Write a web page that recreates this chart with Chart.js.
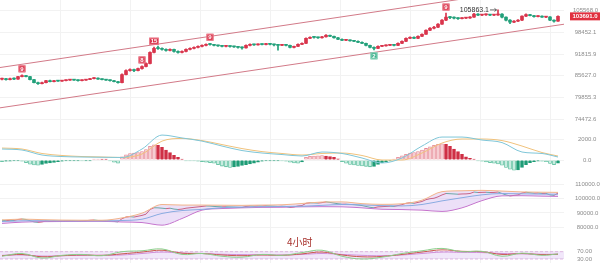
<!DOCTYPE html>
<html><head><meta charset="utf-8">
<script src="https://cdn.jsdelivr.net/npm/chart.js@4/dist/chart.umd.min.js"></script>
<style>
html,body{margin:0;padding:0;background:#fff;width:600px;height:263px;overflow:hidden;position:relative;}
canvas{position:absolute;left:0;}
#tf{position:absolute;left:287px;top:236px;font-size:10px;line-height:12px;font-family:"Noto Sans CJK SC","Noto Sans",sans-serif;color:#a8322d;}
</style></head><body>
<canvas id="c1" width="600" height="126" style="top:0px"></canvas>
<canvas id="c2" width="600" height="52" style="top:126px"></canvas>
<canvas id="c3" width="600" height="58" style="top:178px"></canvas>
<canvas id="c4" width="600" height="27" style="top:236px"></canvas>
<div id="tf">4小时</div>
<script>
// ---------- DATA ----------
// candles: [open, high, low, close]
const candles = [
[84700,85000,84500,84860],[84860,84950,84450,84590],[84590,85000,84500,84860],[84860,85050,84600,84730],
[84730,85500,84650,85420],[85420,85900,85300,85690],[85690,85800,85300,85420],[85420,85500,84500,84590],
[84590,84700,83700,83770],[83770,83900,83300,83500],[83500,83900,83400,83770],[83770,84400,83700,84310],
[84310,84450,83950,84040],[84040,84400,83950,84310],[84310,84400,84100,84180],[84180,84400,84100,84310],
[84310,84550,84250,84450],[84450,84700,84400,84590],[84590,84650,84350,84450],[84450,84500,84200,84310],
[84310,84550,84250,84450],[84450,84700,84400,84600],[84600,84950,84550,84860],[84860,85150,84800,85000],
[85000,85050,84650,84730],[84730,84800,84500,84590],[84590,84650,84350,84450],[84450,84500,84200,84310],
[84310,84400,83950,84040],[84040,84150,83600,83770],[83770,86200,83700,85970],[85970,87300,85900,87090],
[87090,87600,86900,87380],[87380,87500,86800,87090],[87090,87800,87000,87660],[87660,88400,87500,88230],
[88230,89300,88100,89090],[89090,92500,89000,92330],[92330,93900,92200,93540],[93540,94200,93200,93480],
[93480,93700,93000,93240],[93240,93400,92700,92930],[92930,93400,92800,93240],[93240,93300,92400,92630],
[92630,92800,92100,92330],[92330,92800,92200,92630],[92630,93400,92500,93240],[93240,93700,93100,93540],
[93540,94000,93400,93840],[93840,94300,93700,94150],[94150,94600,94000,94450],[94450,94900,94300,94760],
[94760,95100,94500,94700],[94700,94800,94300,94450],[94450,94550,94150,94300],[94300,94400,94000,94150],
[94150,94350,93950,94200],[94200,94300,93900,94100],[94100,94200,93800,93990],[93990,94100,93600,93840],
[93840,94000,93300,93690],[93690,94600,93600,94450],[94450,94900,94300,94760],[94760,94850,94400,94600],
[94600,94900,94500,94760],[94760,94950,94550,94700],[94700,95100,94600,94910],[94910,95000,94600,94760],
[94760,94850,94300,94600],[94600,94700,93000,94450],[94450,94750,94350,94600],[94600,94700,94300,94450],
[94450,94500,93700,93840],[93840,94250,93700,94150],[94150,94900,94050,94760],[94760,95200,94650,95070],
[95070,96800,94950,96620],[96620,97100,96500,96940],[96940,97150,96700,96900],[96900,97000,96600,96780],
[96780,97250,96700,97090],[97090,97800,97000,97570],[97570,97650,97100,97250],[97250,97350,96650,96780],
[96780,96900,96200,96310],[96310,96450,95900,96000],[96000,96200,95850,96050],[96050,96150,95700,95840],
[95840,95950,95550,95690],[95690,95800,95250,95380],[95380,95500,94950,95070],[95070,95150,94300,94450],
[94450,94550,93700,93840],[93840,94000,93100,93540],[93540,94300,93450,94150],[94150,94450,94050,94300],
[94300,94600,94200,94450],[94450,94750,94350,94600],[94600,94700,94300,94450],[94450,95200,94350,95070],
[95070,95800,94950,95690],[95690,96800,95600,96620],[96620,97100,96500,96940],[96940,97050,96500,96620],
[96620,97400,96500,97250],[97250,98000,97100,97880],[97880,99300,97800,99160],[99160,100000,99000,99810],
[99810,100400,99600,100130],[100130,101300,100000,101110],[101110,102600,101000,102430],[102430,104800,102300,103430],
[103430,103700,102900,103270],[103270,103500,102800,103100],[103100,103300,102700,102930],[102930,103300,102800,103100],
[103100,103400,102900,103150],[103150,103600,103000,103430],[103430,104700,103300,104440],[104440,104600,103900,104110],
[104110,104400,103900,104200],[104200,104500,104000,104280],[104280,104400,103900,104110],[104110,104350,103950,104150],
[104150,105863.1,104000,104440],[104440,104600,103200,103430],[103430,103550,102200,102430],[102430,102600,101300,101770],
[101770,102300,101600,102100],[102100,102600,101900,102430],[102430,103900,102300,103770],[103770,104500,103600,104280],
[104280,104400,103800,103940],[103940,104050,103450,103600],[103600,103950,103500,103770],[103770,103850,103300,103430],
[103430,103650,103250,103500],[103500,103600,102300,102430],[102430,102550,101800,102100],[102100,103900,102000,103691]
];
const priceTicks = [105568.0, 98452.1, 91815.9, 85627.0, 79855.3, 74472.6];
const trendUpper = [[-0.5, 87950], [140.5, 115120]];
const trendLower = [[-0.5, 77250], [140.5, 101100]];
// markers: [candle index, label, side]
const markers = [[5,'9','up'],[35,'8','up'],[38,'15','up'],[52,'9','up'],[111,'9','up'],[93,'2','down']];
const lastPrice = 103691.0;
const maxMark = [124, 105863.1];

const macdHist = [
-150,-120,-100,-80,-60,-100,-250,-400,-480,-500,
-420,-330,-280,-220,-160,-120,-90,-70,-60,-50,
-60,-40,-20,30,40,30,20,-40,-200,-300,
300,500,620,650,700,800,1000,1300,1450,1400,
1200,950,700,450,250,80,-40,-80,-90,-100,
-150,-200,-250,-300,-450,-580,-650,-700,-660,-600,
-520,-450,-380,-300,-200,-120,-80,-60,-50,-40,
-60,-100,-200,-280,-300,-180,250,350,380,400,
420,380,320,250,100,-150,-300,-420,-480,-520,
-560,-600,-650,-620,-420,-260,-150,-60,30,250,
400,550,650,700,800,950,1100,1250,1400,1500,
1550,1500,1300,1050,800,550,300,150,30,-60,
-120,-180,-250,-300,-380,-500,-700,-880,-980,-950,
-700,-450,-260,-160,-100,-110,-160,-320,-450,-300
];
const sampleIdx = [0,5,10,15,20,25,30,35,40,45,50,55,60,65,70,75,80,85,90,95,100,105,110,115,120,125,130,135,139];
const dif = [1045,950,475,330,285,260,240,1045,2375,2100,1800,1330,900,665,520,380,760,620,190,-285,190,1330,2185,2185,1900,1660,760,620,285];
const dea = [1140,1045,620,430,330,285,240,570,1800,2050,1850,1470,1090,800,620,475,620,665,430,0,0,665,1615,2000,2000,1850,1330,710,380];
const macdTicks = [2000, 0];

const maUpper = [85100,85650,85300,85000,84900,84900,86500,89800,95800,95400,95400,95300,95200,95400,95600,96500,97500,97600,96400,95900,96300,98800,104700,105300,105600,105100,104500,104300,104200];
const maMid   = [84000,84500,84600,84500,84500,84500,84700,85600,89600,91600,92400,93600,94000,94300,94400,94600,95200,95800,95500,95000,94800,95800,98300,100500,102500,103400,103200,103000,102900];
const maLower = [82700,83600,83900,84000,84100,84100,83700,83300,81500,86100,91900,93000,93500,93800,93900,94200,94300,94200,93500,92500,92300,91900,91000,93500,98500,101800,101900,101600,101400];
const maTicks = [110000, 100000, 90000, 80000];

const rsi6  = [45,60,35,50,55,48,70,75,85,55,60,45,40,55,50,65,78,45,30,40,60,75,88,70,72,45,62,50,58];
const rsi12 = [48,55,42,48,52,50,58,68,78,62,60,52,48,52,50,58,68,52,42,44,55,68,80,72,70,55,60,54,56];
const rsi24 = [50,52,46,48,50,50,52,60,68,62,60,56,54,53,52,55,60,55,50,48,52,60,68,66,65,60,58,56,56];
const rsiLevels = [70, 30];

const gridX = [14.5, 32, 49.5, 67, 84.5, 102, 119.5, 137];

// ---------- STYLE / HELPERS ----------
const RED = '#d9344c', GREEN = '#22a07a';
const FONT = 'Liberation Sans, Arial, sans-serif';
const N = candles.length;
function xScale(){
  return {type:'linear', min:-0.5, max:N+0.5, display:true, offset:false, bounds:'ticks',
    grid:{color:'#f2f2f2', drawTicks:false, lineWidth:1, offset:false}, border:{display:false},
    ticks:{display:false},
    afterBuildTicks(s){ s.ticks = gridX.map(v=>({value:v})); },
    afterFit(s){ s.height=0; s.paddingLeft=0; s.paddingRight=0; s.paddingTop=0; s.paddingBottom=0; }};
}
function yScale(type, min, max, tickVals, fmt, pad){
  return {type, min, max, position:'right',
    grid:{color:'#f2f2f2', drawTicks:false}, border:{display:false},
    ticks:{autoSkip:false, font:{size:6, family:FONT}, color:'#8c8c8c', crossAlign:'center', padding:pad,
      callback:(v)=>fmt(v)},
    afterBuildTicks(s){ s.ticks = tickVals.map(v=>({value:v})); },
    afterFit(s){ s.width=36; s.paddingTop=0; s.paddingBottom=0; s.paddingLeft=0; s.paddingRight=0; }};
}
const base = {responsive:false, animation:false, events:[], layout:{padding:0},
  plugins:{legend:{display:false}, tooltip:{enabled:false}}};
const pts = (arr)=>arr.map((v,k)=>({x:sampleIdx[k], y:v}));

// ---------- CHART 1: price ----------
const annot = {
  id:'annot',
  afterDatasetsDraw(chart){
    const {ctx, scales:{x,y}} = chart;
    ctx.save();
    markers.forEach(([i,t,side])=>{
      const c = candles[i];
      const px = x.getPixelForValue(i);
      const py = side==='up' ? y.getPixelForValue(c[1]) - 6 : y.getPixelForValue(c[2]) + 6;
      ctx.font = 'bold 6px '+FONT;
      const w = Math.max(7, ctx.measureText(t).width + 3), h = 7;
      ctx.fillStyle = side==='up' ? RED : '#3fb08c';
      ctx.fillRect(px - w/2, py - h/2, w, h);
      ctx.strokeStyle = side==='up' ? '#f08c9a' : '#9fe0c8';
      ctx.lineWidth = 0.8;
      ctx.strokeRect(px - w/2 + 0.5, py - h/2 + 0.5, w - 1, h - 1);
      ctx.fillStyle = '#fff';
      ctx.textAlign='center'; ctx.textBaseline='middle';
      ctx.fillText(t, px, py + 0.3);
    });
    const mx = x.getPixelForValue(maxMark[0]), my = y.getPixelForValue(maxMark[1]);
    ctx.strokeStyle = '#444'; ctx.lineWidth = 0.8;
    ctx.beginPath(); ctx.moveTo(mx-8, my); ctx.lineTo(mx-1.5, my); ctx.stroke();
    ctx.beginPath(); ctx.moveTo(mx-1.5, my); ctx.lineTo(mx-3.5, my-1.5); ctx.moveTo(mx-1.5,my); ctx.lineTo(mx-3.5,my+1.5); ctx.stroke();
    ctx.fillStyle = '#333'; ctx.font = '7px '+FONT; ctx.textAlign='right'; ctx.textBaseline='middle';
    ctx.fillText(maxMark[1].toFixed(1), mx - 9, my);
    ctx.restore();
  },
  afterDraw(chart){
    const {ctx, scales:{y}} = chart;
    const py = y.getPixelForValue(lastPrice);
    ctx.save();
    ctx.fillStyle = '#e0303f';
    ctx.fillRect(570, py - 4, 30, 8);
    ctx.fillStyle = '#fff'; ctx.font = 'bold 6px '+FONT; ctx.textAlign='center'; ctx.textBaseline='middle';
    ctx.fillText(lastPrice.toFixed(1), 585, py + 0.3);
    ctx.restore();
  }
};
new Chart(document.getElementById('c1'), {
  type:'bar',
  data:{datasets:[
    {type:'bar', order:0, grouped:false, barThickness:3, minBarLength:1,
     data:candles.map((c,i)=>({x:i, y:[c[0], c[3]]})),
     backgroundColor:candles.map(c=>c[3]>=c[0]?RED:GREEN)},
    {type:'bar', order:1, grouped:false, barThickness:1,
     data:candles.map((c,i)=>({x:i, y:[c[2], c[1]]})),
     backgroundColor:candles.map(c=>c[3]>=c[0]?RED:GREEN)},
    {type:'line', order:2, data:trendUpper.map(p=>({x:p[0],y:p[1]})), borderColor:'#d27a88', borderWidth:1, pointRadius:0},
    {type:'line', order:2, data:trendLower.map(p=>({x:p[0],y:p[1]})), borderColor:'#d27a88', borderWidth:1, pointRadius:0}
  ]},
  options:Object.assign({}, base, {scales:{
    x:xScale(),
    y:yScale('logarithmic', 72862, 109296, priceTicks, v=>Number(v).toFixed(1), 9)
  }}),
  plugins:[annot]
});

// ---------- CHART 2: MACD ----------
const histColors = macdHist.map((v,i)=>{
  const prev = i>0 ? macdHist[i-1] : v;
  if (v>=0) return v>=prev ? {bg:'#f6cdd2', bd:'#e58592'} : {bg:'#cf2f45', bd:'#cf2f45'};
  return v<=prev ? {bg:'#c8ece0', bd:'#4cb894'} : {bg:'#1e9c76', bd:'#1e9c76'};
});
new Chart(document.getElementById('c2'), {
  type:'bar',
  data:{datasets:[
    {type:'line', order:0, data:pts(dif), borderColor:'#7fc6d8', borderWidth:1, pointRadius:0, tension:0.4, cubicInterpolationMode:'monotone'},
    {type:'line', order:0, data:pts(dea), borderColor:'#f0c27c', borderWidth:1, pointRadius:0, tension:0.4, cubicInterpolationMode:'monotone'},
    {type:'bar', order:1, grouped:false, barThickness:3, minBarLength:1,
     data:macdHist.map((v,i)=>({x:i,y:v})),
     backgroundColor:histColors.map(c=>c.bg), borderColor:histColors.map(c=>c.bd), borderWidth:0.8}
  ]},
  options:Object.assign({}, base, {scales:{
    x:xScale(),
    y:yScale('linear', -1714, 3238, macdTicks, v=>Number(v).toFixed(1), 14)
  }})
});

// ---------- CHART 3: MA band ----------
new Chart(document.getElementById('c3'), {
  type:'line',
  data:{datasets:[
    {data:pts(maUpper), borderColor:'#f2b48a', borderWidth:1, pointRadius:0, tension:0.4, cubicInterpolationMode:'monotone', fill:'+2', backgroundColor:'rgba(200,165,235,0.35)'},
    {data:pts(maMid), borderColor:'#68aedc', borderWidth:1, pointRadius:0, tension:0.4, cubicInterpolationMode:'monotone'},
    {data:pts(maLower), borderColor:'#c46cc8', borderWidth:1, pointRadius:0, tension:0.4, cubicInterpolationMode:'monotone'},
    {data:candles.map((c,i)=>({x:i,y:c[3]})), borderColor:'#c0404a', borderWidth:1, pointRadius:0,
     segment:{borderColor:ctx=>ctx.p1.parsed.y>=ctx.p0.parsed.y?'#c8404f':'#3aa882'}}
  ]},
  options:Object.assign({}, base, {scales:{
    x:xScale(),
    y:yScale('linear', 73970, 114160, maTicks, v=>Number(v).toFixed(1), 11)
  }})
});

// ---------- CHART 4: RSI ----------
new Chart(document.getElementById('c4'), {
  type:'line',
  data:{datasets:[
    {data:pts(rsi6), borderColor:'#8ccf8c', borderWidth:1, pointRadius:0, tension:0.4},
    {data:pts(rsi12), borderColor:'#c9574f', borderWidth:1, pointRadius:0, tension:0.4},
    {data:pts(rsi24), borderColor:'#cf8fd8', borderWidth:1, pointRadius:0, tension:0.4},
    {data:[{x:-0.5,y:rsiLevels[0]},{x:N+0.5,y:rsiLevels[0]}], borderColor:'#d9a6dc', borderWidth:0.8, borderDash:[3,2], pointRadius:0, fill:'+1', backgroundColor:'rgba(215,185,240,0.35)'},
    {data:[{x:-0.5,y:rsiLevels[1]},{x:N+0.5,y:rsiLevels[1]}], borderColor:'#d9a6dc', borderWidth:0.8, borderDash:[3,2], pointRadius:0}
  ]},
  options:Object.assign({}, base, {scales:{
    x:xScale(),
    y:yScale('linear', 8, 156, rsiLevels, v=>Number(v).toFixed(2), 13)
  }})
});
</script>
</body></html>
